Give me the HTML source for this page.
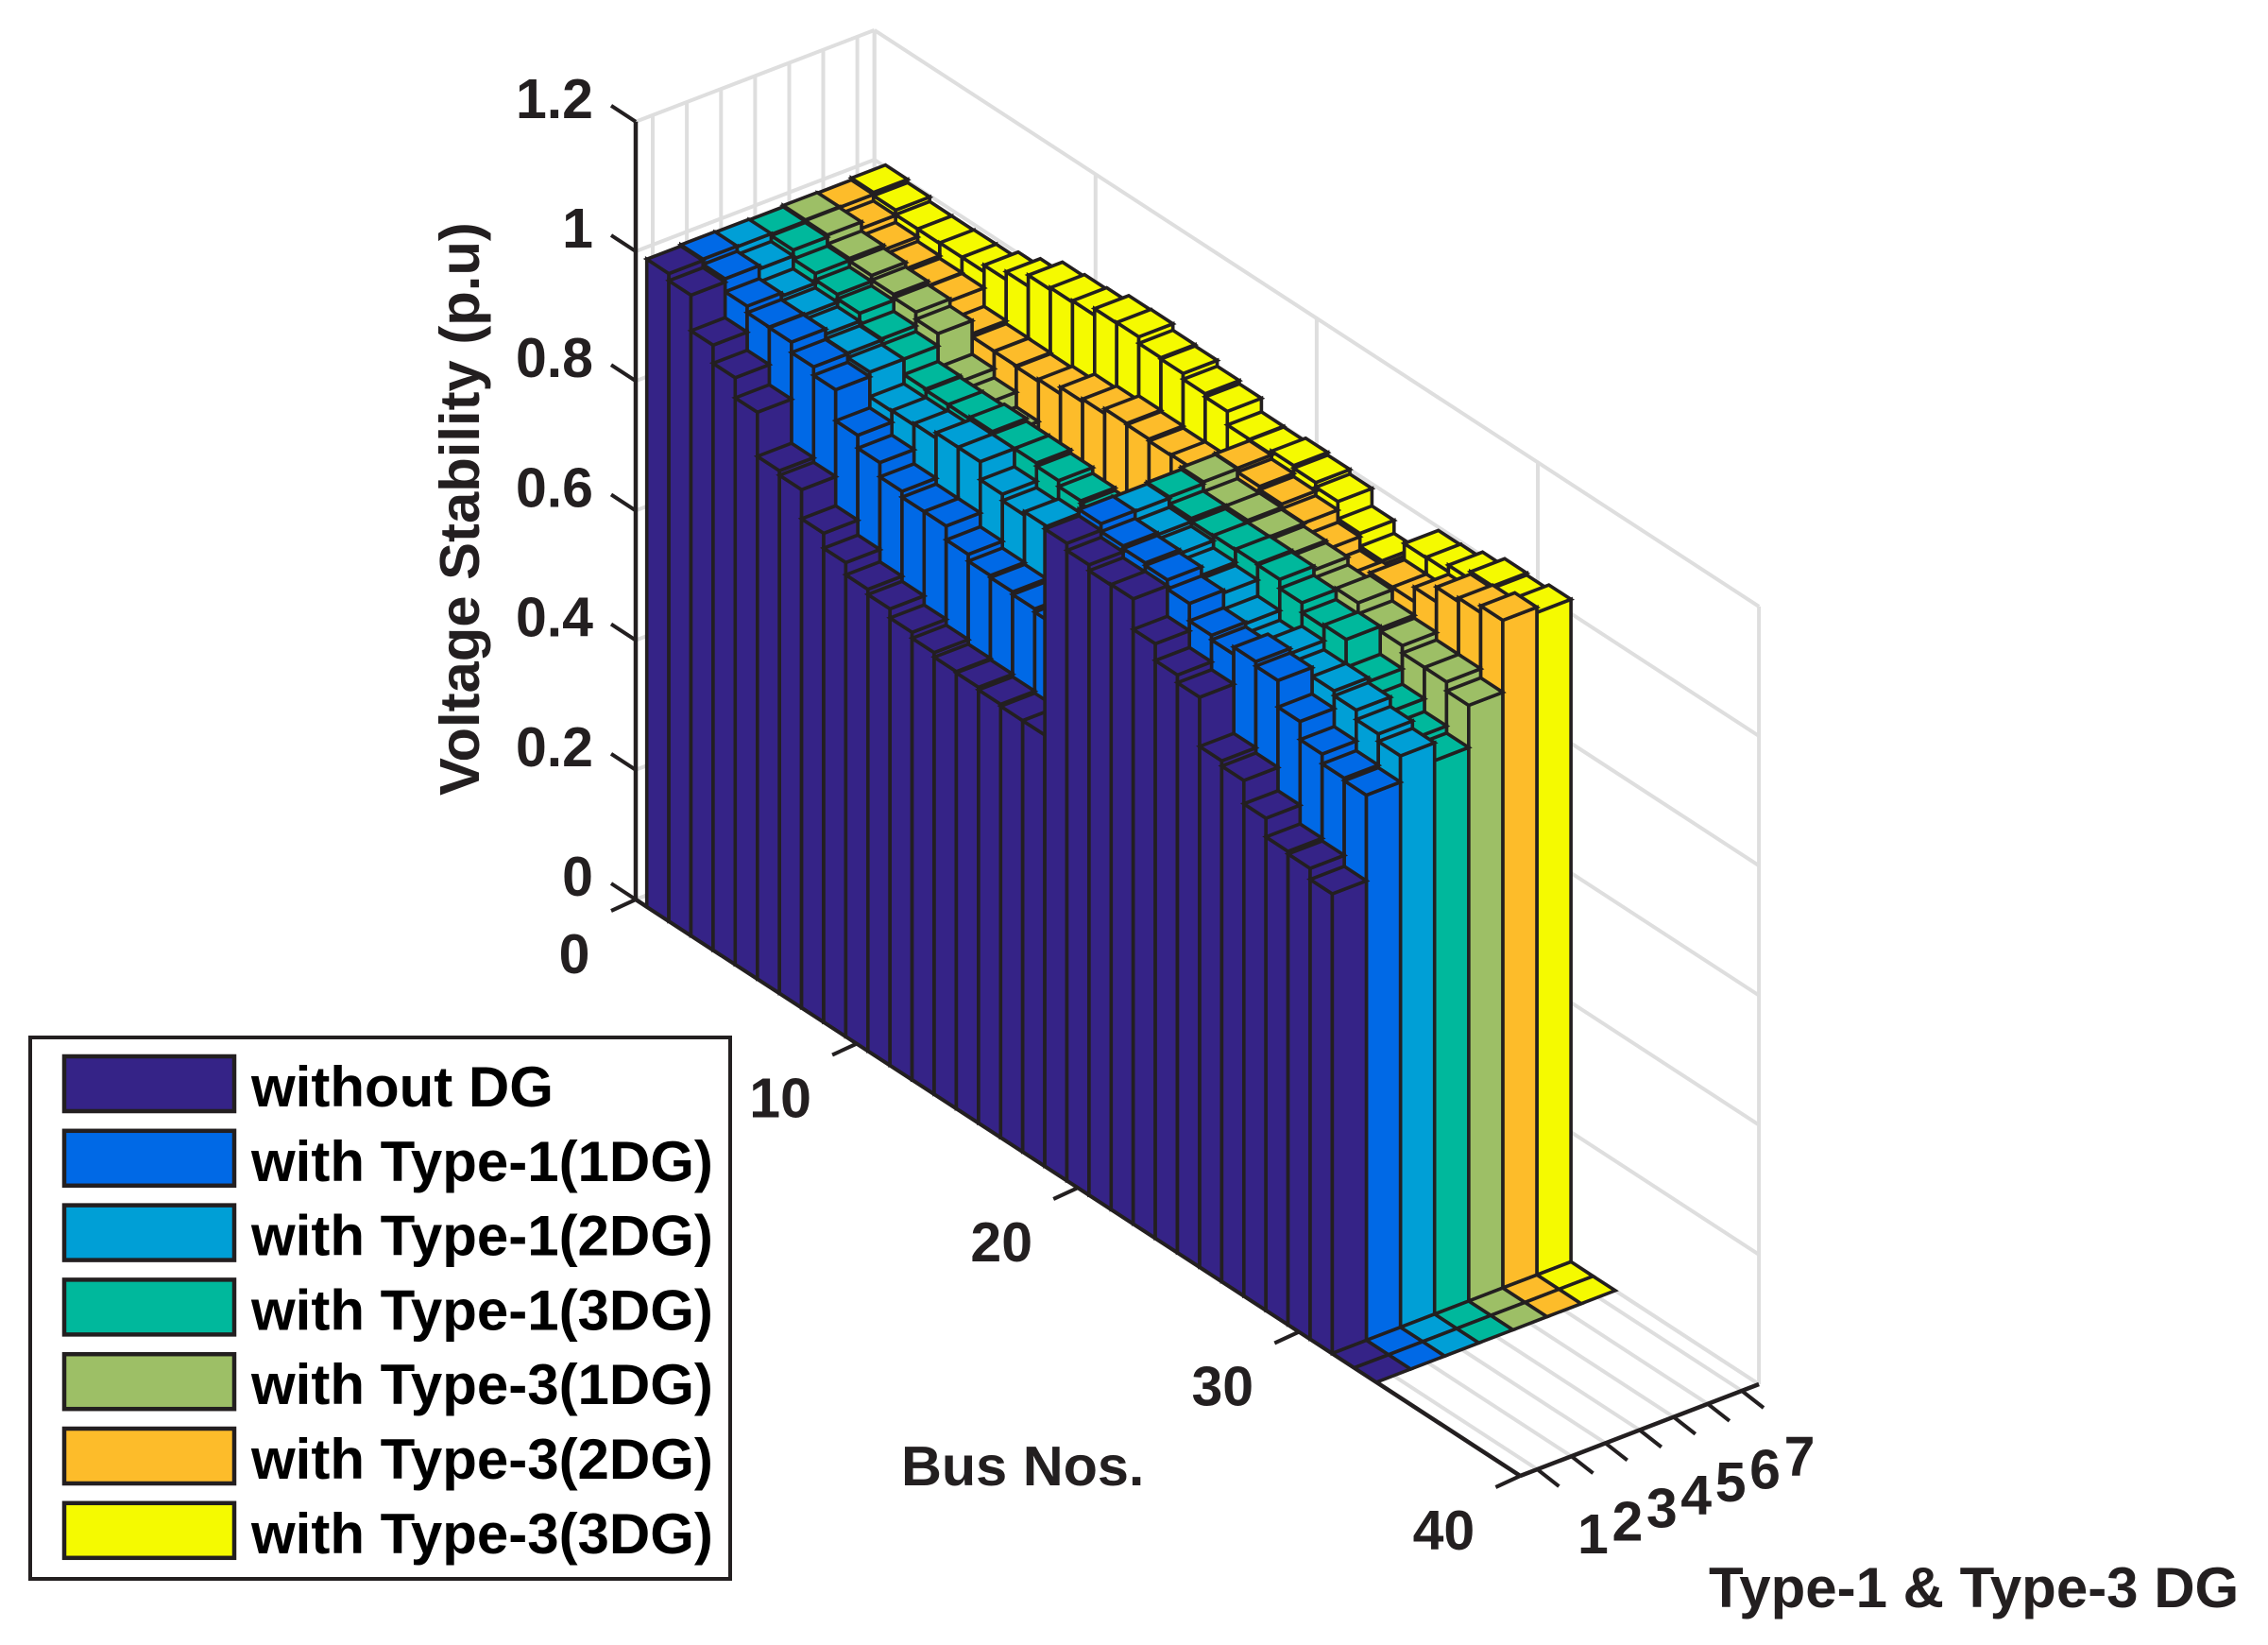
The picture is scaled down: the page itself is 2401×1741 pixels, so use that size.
<!DOCTYPE html>
<html lang="en">
<head>
<meta charset="utf-8">
<title>Voltage Stability 3D Bar Chart</title>
<style>
html,body{margin:0;padding:0;background:#fff;}
svg{display:block;}
text{font-family:"Liberation Sans",Arial,sans-serif;font-weight:bold;font-size:59px;fill:#231f20;}
</style>
</head>
<body>
<svg id="chart" xmlns="http://www.w3.org/2000/svg" width="2401" height="1741" viewBox="0 0 2401 1741">
  <rect x="0" y="0" width="2401" height="1741" fill="#ffffff"/>
  <g id="grid"></g>
  <g id="axes"></g>
  <g id="bars"></g>
  <g id="labels"></g>
  <text style="font-size:59.8px" transform="translate(507,842) rotate(-90)">Voltage Stability (p.u)</text>
  <text style="font-size:59.4px" x="954" y="1572">Bus Nos.</text>
  <text style="font-size:60px" x="1809" y="1701">Type-1 &amp; Type-3 DG</text>
  <g id="legend">
    <rect x="32" y="1098" width="741" height="573" fill="#fff" stroke="#231f20" stroke-width="4"/>
  </g>
</svg>
<script>
var busRows = [1,2,3,4,5,6,7,8,9,10,11,12,13,14,15,16,17,18,19,20,21,22,23,24,25,26,27,28,29,30,31,32,33];
var seriesNames = ["without DG","with Type-1(1DG)","with Type-1(2DG)","with Type-1(3DG)","with Type-3(1DG)","with Type-3(2DG)","with Type-3(3DG)"];
var seriesColors = ["#352387","#0069e6","#009fd6","#00b89c","#9dbf66","#fdbc2a","#f5fa00"];
var withoutDG = [0.999,0.988,0.933,0.905,0.874,0.806,0.799,0.754,0.731,0.712,0.704,0.690,0.681,0.674,0.672,0.668,0.665,0.665,0.983,0.972,0.963,0.964,0.917,0.891,0.879,0.803,0.795,0.759,0.730,0.726,0.709,0,0];
var type1DG1 = [1.001,0.993,0.973,0.963,0.962,0.946,0.933,0.885,0.865,0.843,0.834,0.834,0.8125,0.802,0.799,0.795,0.79,0.785,0.993,0.981,0.977,0.973,0.959,0.932,0.925,0.936,0.929,0.888,0.860,0.845,0.841,0,0];
var type1DG2 = [1.0,0.988,0.968,0.961,0.954,0.947,0.940,0.902,0.903,0.905,0.913,0.913,0.885,0.875,0.880,0.875,0.87,0.865,0.992,0.978,0.971,0.960,0.955,0.930,0.915,0.928,0.914,0.915,0.9075,0.893,0.8815,0,0];
var type1DG3 = [0.999,0.997,0.983,0.973,0.966,0.949,0.940,0.916,0.914,0.914,0.917,0.913,0.913,0.908,0.899,0.895,0.89,0.885,0.994,0.983,0.978,0.979,0.980,0.978,0.964,0.949,0.952,0.909,0.885,0.865,0.854,0,0];
var type3DG1 = [1.001,1.0,0.986,0.982,0.975,0.970,0.959,0.907,0.893,0.870,0.85,0.84,0.84,0.84,0.84,0.84,0.84,0.84,0.997,0.982,0.982,0.979,0.975,0.972,0.960,0.966,0.949,0.9445,0.933,0.933,0.919,0,0];
var type3DG2 = [1.0,0.99,0.979,0.972,0.968,0.967,0.9385,0.934,0.9335,0.932,0.935,0.945,0.949,0.956,0.954,0.951,0.952,0.945,0.998,0.992,0.987,0.980,0.961,0.940,0.945,0.970,0.970,0.992,1.0145,1.02,1.03,0,0];
var type3DG3 = [1.003,0.998,0.991,0.991,0.992,0.992,1.002,1.014,1.031,1.034,1.036,1.046,1.047,1.037,1.035,1.026,1.021,1.0,0.999,1.004,1.0,0.993,0.966,0.946,0.94,0.995,0.996,1.006,1.018,1.015,1.022,0,0];
var zTicks = [0,0.2,0.4,0.6,0.8,1,1.2];
var zTickLabels = ["0","0.2","0.4","0.6","0.8","1","1.2"];
var busTicks = [0,10,20,30,40];
var typeTicks = [1,2,3,4,5,6,7];

var allSeries = [withoutDG,type1DG1,type1DG2,type1DG3,type3DG1,type3DG2,type3DG3];
var NS = "http://www.w3.org/2000/svg";
var INK = "#231f20";
var GRID = "#dedede";

// axis functions: x = series position, y = bus position, z = voltage value
function px(x,y){ return 673 + (x-0.5)*36.1 + y*23.41; }
function py(x,y,z){ return 952 - (x-0.5)*13.85 + y*15.25 - z*686; }
function pt(x,y,z){ return px(x,y).toFixed(1)+","+py(x,y,z).toFixed(1); }

function seg(parent,x1,y1,x2,y2,color,w){
  var el=document.createElementNS(NS,"line");
  el.setAttribute("x1",x1.toFixed(1));
  el.setAttribute("y1",y1.toFixed(1));
  el.setAttribute("x2",x2.toFixed(1));
  el.setAttribute("y2",y2.toFixed(1));
  el.setAttribute("stroke",color);
  el.setAttribute("stroke-width",w);
  parent.appendChild(el);
  return el;
}
function seg3(parent,a,b,color,w){
  return seg(parent,px(a[0],a[1]),py(a[0],a[1],a[2]),px(b[0],b[1]),py(b[0],b[1],b[2]),color,w);
}

var gridG=document.getElementById("grid");
var axesG=document.getElementById("axes");
var barsG=document.getElementById("bars");
var labelsG=document.getElementById("labels");
var legendG=document.getElementById("legend");
var XMIN=0.5,XMAX=7.5,YMIN=0,YMAX=40,ZMAX=1.2;

zTicks.forEach(function(z){
  var g1=seg3(gridG,[XMIN,YMIN,z],[XMAX,YMIN,z],GRID,4);
  
  
  var g2=seg3(gridG,[XMAX,YMIN,z],[XMAX,YMAX,z],GRID,4);
  
  
});
typeTicks.concat([XMAX]).forEach(function(x){
  var g1=seg3(gridG,[x,YMIN,0],[x,YMIN,ZMAX],GRID,4);
  
  
  var g2=seg3(gridG,[x,YMIN,0],[x,YMAX,0],GRID,4);
  
  
});
busTicks.forEach(function(y){
  var g1=seg3(gridG,[XMAX,y,0],[XMAX,y,ZMAX],GRID,4);
  
  
  var g2=seg3(gridG,[XMIN,y,0],[XMAX,y,0],GRID,4);
  
  
});

var a1=seg3(axesG,[XMIN,YMIN,0],[XMIN,YMIN,ZMAX],INK,4.5);


var a2=seg3(axesG,[XMIN,YMIN,0],[XMIN,YMAX,0],INK,4.5);


var a3=seg3(axesG,[XMIN,YMAX,0],[XMAX,YMAX,0],INK,4.5);



function addLabel(str,x,y,anchor,name){
  var t=document.createElementNS(NS,"text");
  t.setAttribute("x",x.toFixed(1));
  t.setAttribute("y",y.toFixed(1));
  t.setAttribute("text-anchor",anchor);
  
  
  t.textContent=str;
  labelsG.appendChild(t);
}

zTicks.forEach(function(z,i){
  var bx=px(XMIN,YMIN), by=py(XMIN,YMIN,z);
  var t=seg(axesG,bx,by,bx-26,by-17,INK,4);
  
  
  addLabel(zTickLabels[i],628,by-4,"end","z-tick-label");
});
busTicks.forEach(function(y){
  var bx=px(XMIN,y), by=py(XMIN,y,0);
  var t=seg(axesG,bx,by,bx-26,by+12,INK,4);
  
  
  addLabel(String(y),bx-(y===0?65:81),by+78,"middle","bus-tick-label");
});
typeTicks.forEach(function(x){
  var bx=px(x,YMAX), by=py(x,YMAX,0);
  var t=seg(axesG,bx,by,bx+23,by+18,INK,4);
  
  
  addLabel(String(x),bx+59+(x-1)*0.33,by+89+(x-1)*0.1,"middle","type-tick-label");
});

function face(parent,pts,color){
  var el=document.createElementNS(NS,"polygon");
  el.setAttribute("points",pts.join(" "));
  el.setAttribute("fill",color);
  el.setAttribute("stroke",INK);
  el.setAttribute("stroke-width","3.6");
  el.setAttribute("stroke-linejoin","miter");
  
  
  parent.appendChild(el);
}

for(var s=allSeries.length-1;s>=0;s--){
  for(var r=0;r<busRows.length;r++){
    var v=allSeries[s][r];
    var bus=busRows[r];
    var xl=s+0.5, xh=s+1.5, yl=bus-0.5, yh=bus+0.5;
    var g=document.createElementNS(NS,"g");
    
    
    if(v>0){
      face(g,[pt(xl,yl,0),pt(xl,yh,0),pt(xl,yh,v),pt(xl,yl,v)],seriesColors[s]);
      face(g,[pt(xl,yh,0),pt(xh,yh,0),pt(xh,yh,v),pt(xl,yh,v)],seriesColors[s]);
    }
    face(g,[pt(xl,yl,v),pt(xl,yh,v),pt(xh,yh,v),pt(xh,yl,v)],seriesColors[s]);
    barsG.appendChild(g);
  }
}

seriesNames.forEach(function(name,i){
  var top=1118+i*78.8;
  var sw=document.createElementNS(NS,"rect");
  sw.setAttribute("x","68");
  sw.setAttribute("y",top.toFixed(1));
  sw.setAttribute("width","180");
  sw.setAttribute("height","58");
  sw.setAttribute("fill",seriesColors[i]);
  sw.setAttribute("stroke",INK);
  sw.setAttribute("stroke-width","4.5");
  
  
  legendG.appendChild(sw);
  var t=document.createElementNS(NS,"text");
  t.setAttribute("x","266");
  t.setAttribute("y",(top+53).toFixed(1));
  t.setAttribute("style","font-size:60px;fill:#000");
  
  
  t.textContent=name;
  legendG.appendChild(t);
});
</script>
</body>
</html>
